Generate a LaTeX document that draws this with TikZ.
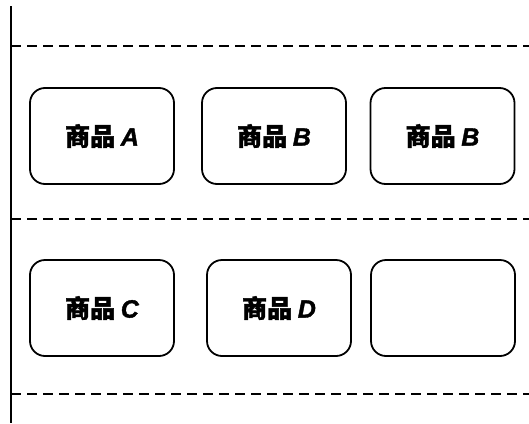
\documentclass[tikz,border=0pt]{standalone}
\usepackage{fontspec}
\newfontfamily\cjk{Noto Sans CJK SC}[BoldFeatures={FakeBold=1.5}]
\newfontfamily\latf{Liberation Sans}[BoldItalicFeatures={FakeBold=1.5}]
\tikzset{
  item/.style={draw, line width=1.8pt, rounded corners=15pt, minimum width=144pt, minimum height=96pt, inner sep=0pt, font=\fontsize{25pt}{28pt}\selectfont\cjk\bfseries},
  sep/.style={line width=1.5pt, dash pattern=on 10pt off 6pt},
  axis/.style={line width=1.8pt}
}
\newcommand{\lbl}[1]{商品 {\latf\bfseries\itshape #1}}
\begin{document}
\begin{tikzpicture}[x=1pt,y=-1pt]
\useasboundingbox (0,0) rectangle (529,423);
\coordinate (vt) at (11,6);
\coordinate (vb) at (11,423);
\draw[axis] (vt) -- (vb);
\coordinate (s1l) at (11,46); \coordinate (s1r) at (529,46);
\coordinate (s2l) at (11,219); \coordinate (s2r) at (529,219);
\coordinate (s3l) at (11,394); \coordinate (s3r) at (529,394);
\draw[sep] (s1l) -- (s1r);
\draw[sep] (s2l) -- (s2r);
\draw[sep] (s3l) -- (s3r);
\node[item] (a) at (102,136) {\lbl{A}};
\node[item] (b1) at (274,136) {\lbl{B}};
\node[item] (b2) at (442.5,136) {\lbl{B}};
\node[item] (c) at (102,308) {\lbl{C}};
\node[item] (d) at (279,308) {\lbl{D}};
\node[item] (e) at (443,308) {};
\end{tikzpicture}
\end{document}
